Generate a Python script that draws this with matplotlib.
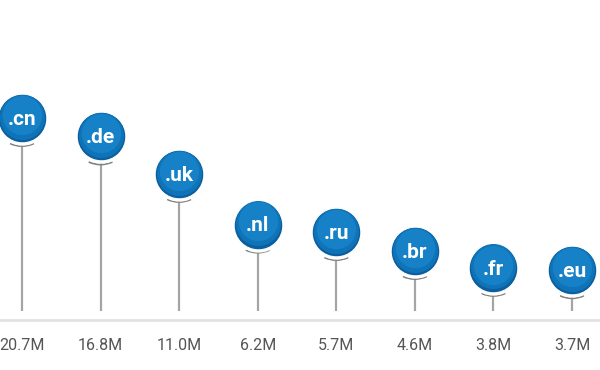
import matplotlib.pyplot as plt
from matplotlib.path import Path

domains = [".cn", ".de", ".uk", ".nl", ".ru", ".br", ".fr", ".eu"]
registrations = [20.7, 16.8, 11.0, 6.2, 5.7, 4.6, 3.8, 3.7]  # millions
tick_labels = [f"{v:.1f}M" for v in registrations]

stem_base = 2.33
stem_grey = "#a3a6a3"
font = ["Roboto", "DejaVu Sans"]

fig = plt.figure(figsize=(6, 3.7), dpi=100)
ax = fig.add_axes([0, 50 / 370, 1, 320 / 370])
ax.set_yscale("log")
ax.set_xlim(-0.28, 7.356)
ax.set_ylim(2.105, 78.6)

x = list(range(len(domains)))

# stems
ax.vlines(x, stem_base, registrations, color=stem_grey, lw=1.6, zorder=1)

# little shadow arc under each pin head
arc = Path.arc(245, 295)
ax.scatter(x, registrations, marker=arc, s=1650, facecolors="none",
           edgecolors="#7f827f", linewidths=1.2, zorder=2)
ax.scatter(x, registrations, s=1450, color="white", zorder=2.5)

# pin heads, fake top-light gradient with stacked discs
ax.scatter(x, registrations, s=1230, color="#0b5f9f", edgecolors="white",
           linewidths=0.8, zorder=3)
ax.scatter(x, [v * 1.015 for v in registrations], s=1050, color="#0f73b8",
           linewidths=0, zorder=3.1)
ax.scatter(x, [v * 1.035 for v in registrations], s=800, color="#1885cb",
           linewidths=0, alpha=0.8, zorder=3.2)

for xi, v, name in zip(x, registrations, domains):
    ax.text(xi, v * 0.985, name, color="white", fontsize=15, fontweight="bold",
            family=font, ha="center", va="center", zorder=4)

ax.set_xticks(x)
ax.set_xticklabels(tick_labels, family=font, fontsize=11.5, color="#555555")
ax.tick_params(axis="x", length=0, pad=13)
ax.set_yticks([])
ax.minorticks_off()
ax.tick_params(axis="y", which="both", left=False, labelleft=False)

for side in ["top", "left", "right"]:
    ax.spines[side].set_visible(False)
ax.spines["bottom"].set_color("#e2e2e2")
ax.spines["bottom"].set_linewidth(2)

fig.savefig("out.png", dpi=100)
